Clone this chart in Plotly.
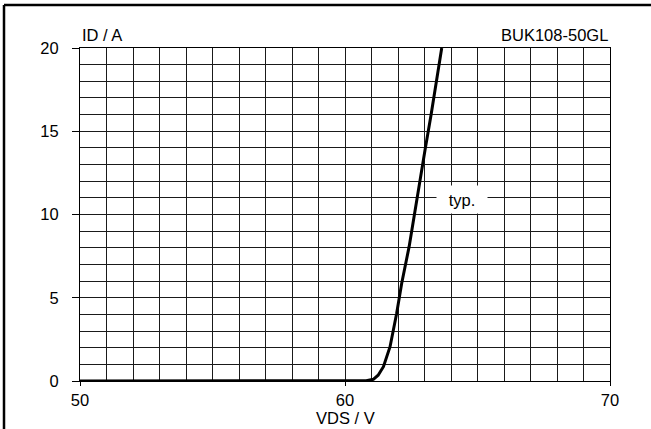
import plotly.graph_objects as go

# Data
vds = [50, 55, 60, 60.8, 61.07, 61.25, 61.45, 61.7, 61.95, 62.14, 62.42, 62.70, 63.02, 63.25, 63.65]
id_a = [0, 0, 0, 0.02, 0.1, 0.35, 0.86, 2.06, 4.07, 5.87, 8.07, 10.87, 13.87, 16.0, 20.0]

x_ticks = [50, 60, 70]
y_ticks = [0, 5, 10, 15, 20]

FONT = "Liberation Sans, Arial, sans-serif"
FS = 16.5
GRID = "#1a1a1a"

fig = go.Figure()
fig.add_trace(go.Scatter(x=vds, y=id_a, mode="lines",
                         line=dict(color="black", width=3), showlegend=False,
                         hoverinfo="skip"))

fig.update_layout(
    width=651, height=429,
    margin=dict(l=80, r=41, t=48, b=48),
    paper_bgcolor="white", plot_bgcolor="white",
    font=dict(family=FONT, size=FS, color="black"),
    showlegend=False,
)

fig.update_xaxes(
    range=[50, 70], tickvals=x_ticks, ticktext=[str(v) for v in x_ticks],
    ticks="outside", ticklen=4, tickcolor="black", tickwidth=1,
    showgrid=True, gridcolor=GRID, gridwidth=1,
    minor=dict(dtick=1, showgrid=True, gridcolor=GRID, gridwidth=1),
    showline=True, linecolor="black", linewidth=1, mirror=True,
    zeroline=False, tickfont=dict(family=FONT, size=FS, color="black"),
)
fig.update_yaxes(
    range=[0, 20], tickvals=y_ticks, ticktext=[str(v) for v in y_ticks],
    ticks="outside", ticklen=7, tickcolor="black", tickwidth=1,
    showgrid=True, gridcolor=GRID, gridwidth=1,
    minor=dict(dtick=1, showgrid=True, gridcolor=GRID, gridwidth=1),
    showline=True, linecolor="black", linewidth=1, mirror=True,
    zeroline=False, tickfont=dict(family=FONT, size=FS, color="black"),
    ticklabelstandoff=10,
)

fig.add_annotation(text="ID / A", xref="paper", yref="paper", x=0, y=1.039,
                   xanchor="left", yanchor="middle", showarrow=False,
                   font=dict(family=FONT, size=FS, color="black"))
fig.add_annotation(text="BUK108-50GL", xref="paper", yref="paper", x=1, y=1.039,
                   xanchor="right", yanchor="middle", showarrow=False,
                   font=dict(family=FONT, size=FS, color="black"))
fig.add_annotation(text="VDS / V", xref="paper", yref="paper", x=0.5, y=(381 - 417.5) / 333,
                   xanchor="center", yanchor="middle", showarrow=False,
                   font=dict(family=FONT, size=FS, color="black"))
fig.add_annotation(text="typ.", xref="x", yref="y", x=64.4, y=10.9,
                   xanchor="center", yanchor="middle", showarrow=False,
                   bgcolor="white", width=48, height=25, borderpad=1,
                   font=dict(family=FONT, size=FS, color="black"))

# outer frame (left and top edges visible in the reference)
frame_x = -76 / 530
frame_y = (381 - 5) / 333
fig.add_shape(type="line", xref="paper", yref="paper",
              x0=frame_x, x1=frame_x, y0=-0.3, y1=frame_y,
              line=dict(color="black", width=2.5), layer="above")
fig.add_shape(type="line", xref="paper", yref="paper",
              x0=frame_x, x1=1.2, y0=frame_y, y1=frame_y,
              line=dict(color="black", width=2.5), layer="above")

fig.write_html("out.html", config={"displayModeBar": False},
               post_script="document.body.style.margin='0';")
